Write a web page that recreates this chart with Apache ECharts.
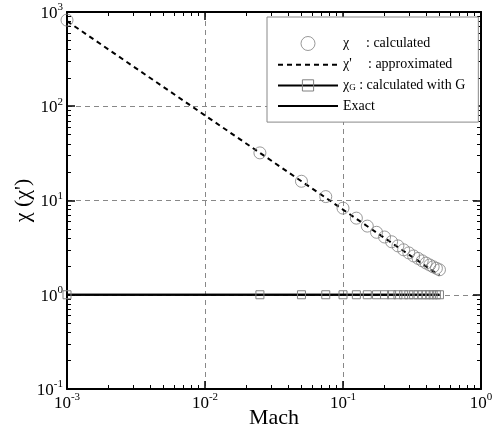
<!DOCTYPE html>
<html>
<head>
<meta charset="utf-8">
<script src="https://cdn.jsdelivr.net/npm/echarts@6/dist/echarts.min.js"></script>
<style>html,body{margin:0;padding:0;background:#fff;}#c{width:497px;height:430px;}</style>
</head>
<body>
<div id="c"></div>
<script>
// ---- data ----
const mach = [0.001, 0.025, 0.05, 0.075, 0.1, 0.125, 0.15, 0.175, 0.2, 0.225, 0.25, 0.275, 0.3, 0.325, 0.35, 0.375, 0.4, 0.425, 0.45, 0.475, 0.5];
const chiCalc = [820, 32, 16, 11.0, 8.3, 6.5, 5.35, 4.6, 4.1, 3.65, 3.3, 3.0, 2.78, 2.58, 2.43, 2.29, 2.17, 2.07, 1.98, 1.91, 1.84];
const chiApprox = [800, 32, 16, 10.7, 8.0, 6.4, 5.33, 4.57, 4.0, 3.56, 3.2, 2.91, 2.67, 2.46, 2.29, 2.13, 2.0, 1.88, 1.78, 1.68, 1.6];
const chiG = [1, 1, 1, 1, 1, 1, 1, 1, 1, 1, 1, 1, 1, 1, 1, 1, 1, 1, 1, 1, 1];
const exactMach = [0.001, 0.5];
const exactVal = [1, 1];
const xRange = [0.001, 1];
const yRange = [0.1, 1000];

const FONT = 'Liberation Serif';
const pair = (xs, ys) => xs.map((x, i) => [x, ys[i]]);
function minorLogs(lo, hi) {
  const out = [];
  for (let d = lo; d < hi; d++) for (let k = 2; k <= 9; k++) out.push(d + Math.log10(k));
  return out;
}
const powLabel = v => '{b|10}{e|' + Math.round(Math.log10(v)) + '}';
const labelRich = {
  b: { fontFamily: FONT, fontSize: 17, color: '#000', lineHeight: 20, verticalAlign: 'bottom' },
  e: { fontFamily: FONT, fontSize: 11, color: '#000', lineHeight: 20, verticalAlign: 'top' }
};
const mainLine = { show: true, onZero: false, lineStyle: { color: '#000', width: 2 } };

function majorAxis(pos, range, opts) {
  return Object.assign({
    type: 'log', logBase: 10, position: pos, min: range[0], max: range[1],
    axisLine: mainLine,
    axisTick: { show: true, inside: true, length: 8, lineStyle: { color: '#000', width: 1.5 } },
    minorTick: { show: false },
    axisLabel: { show: false },
    splitLine: { show: false }
  }, opts || {});
}
function minorAxis(pos, lo, hi) {
  return {
    type: 'value', position: pos, min: lo, max: hi,
    axisLine: { show: false, onZero: false },
    axisTick: { show: true, inside: true, length: 4, customValues: minorLogs(lo, hi), lineStyle: { color: '#000', width: 1 } },
    axisLabel: { show: false },
    splitLine: { show: false }
  };
}

const chart = echarts.init(document.getElementById('c'), null, { renderer: 'canvas' });
chart.setOption({
  animation: false,
  backgroundColor: '#fff',
  grid: { left: 67, right: 16, top: 12, bottom: 41, outerBoundsMode: 'none', containLabel: false },
  xAxis: [
    majorAxis('bottom', xRange, {
      name: 'Mach', nameLocation: 'middle', nameGap: 18, nameMoveOverlap: false,
      nameTextStyle: { fontFamily: FONT, fontSize: 22, color: '#000' },
      axisLabel: { show: true, margin: 3, formatter: powLabel, rich: labelRich },
      splitLine: { show: true, lineStyle: { color: '#888', width: 1, type: [5, 4] } }
    }),
    minorAxis('bottom', -3, 0),
    majorAxis('top', xRange),
    minorAxis('top', -3, 0)
  ],
  yAxis: [
    majorAxis('left', yRange, {
      name: 'χ (χ\')', nameLocation: 'middle', nameGap: 33, nameRotate: 90, nameMoveOverlap: false,
      nameTextStyle: { fontFamily: FONT, fontSize: 22, color: '#000' },
      axisLabel: { show: true, margin: 4, formatter: powLabel, rich: labelRich },
      splitLine: { show: true, lineStyle: { color: '#888', width: 1, type: [5, 4] } }
    }),
    minorAxis('left', -1, 3),
    majorAxis('right', yRange),
    minorAxis('right', -1, 3)
  ],
  legend: {
    orient: 'vertical', left: 267, top: 17,
    itemWidth: 60, itemHeight: 14, itemGap: 6.7,
    padding: [19, 13, 9, 10],
    backgroundColor: '#fff', borderColor: '#888', borderWidth: 1,
    textStyle: {
      fontFamily: FONT, fontSize: 14, color: '#000', lineHeight: 14,
      rich: {
        g1: { fontFamily: FONT, fontSize: 14, lineHeight: 14, width: 23 },
        g2: { fontFamily: FONT, fontSize: 14, lineHeight: 14, width: 25 },
        g3: { fontFamily: FONT, fontSize: 14, lineHeight: 14 },
        s: { fontFamily: FONT, fontSize: 9, lineHeight: 14, verticalAlign: 'bottom', width: 10 },
        t: { fontFamily: FONT, fontSize: 14, lineHeight: 14 }
      }
    },
    formatter: function (name) {
      if (name === 'calc') return '{g1|χ}{t|: calculated}';
      if (name === 'approx') return '{g2|χ\'}{t|: approximated}';
      if (name === 'withG') return '{g3|χ}{s|G}{t|: calculated with G}';
      return '{t|Exact}';
    },
    data: [
      { name: 'calc', itemStyle: { borderWidth: 1 } },
      'approx',
      { name: 'withG', itemStyle: { borderWidth: 1 } },
      'exact'
    ]
  },
  series: [
    {
      name: 'calc', type: 'scatter', xAxisIndex: 0, yAxisIndex: 0,
      data: pair(mach, chiCalc),
      symbol: 'circle', symbolSize: 12,
      itemStyle: { color: 'rgba(0,0,0,0)', borderColor: '#808080', borderWidth: 1 },
      z: 5
    },
    {
      name: 'approx', type: 'line', xAxisIndex: 0, yAxisIndex: 0,
      data: pair(mach, chiApprox),
      symbol: 'none',
      lineStyle: { color: '#000', width: 2, type: [5, 4] },
      itemStyle: { color: 'rgba(0,0,0,0)', borderWidth: 0 },
      z: 4
    },
    {
      name: 'withG', type: 'line', xAxisIndex: 0, yAxisIndex: 0,
      data: pair(mach, chiG),
      symbol: 'rect', symbolSize: 8, showSymbol: true,
      lineStyle: { color: '#000', width: 2 },
      itemStyle: { color: 'rgba(0,0,0,0)', borderColor: '#808080', borderWidth: 1 },
      z: 4
    },
    {
      name: 'exact', type: 'line', xAxisIndex: 0, yAxisIndex: 0,
      data: pair(exactMach, exactVal),
      symbol: 'none',
      lineStyle: { color: '#000', width: 2 },
      itemStyle: { color: 'rgba(0,0,0,0)', borderWidth: 0 },
      z: 3
    }
  ]
});
</script>
</body>
</html>
